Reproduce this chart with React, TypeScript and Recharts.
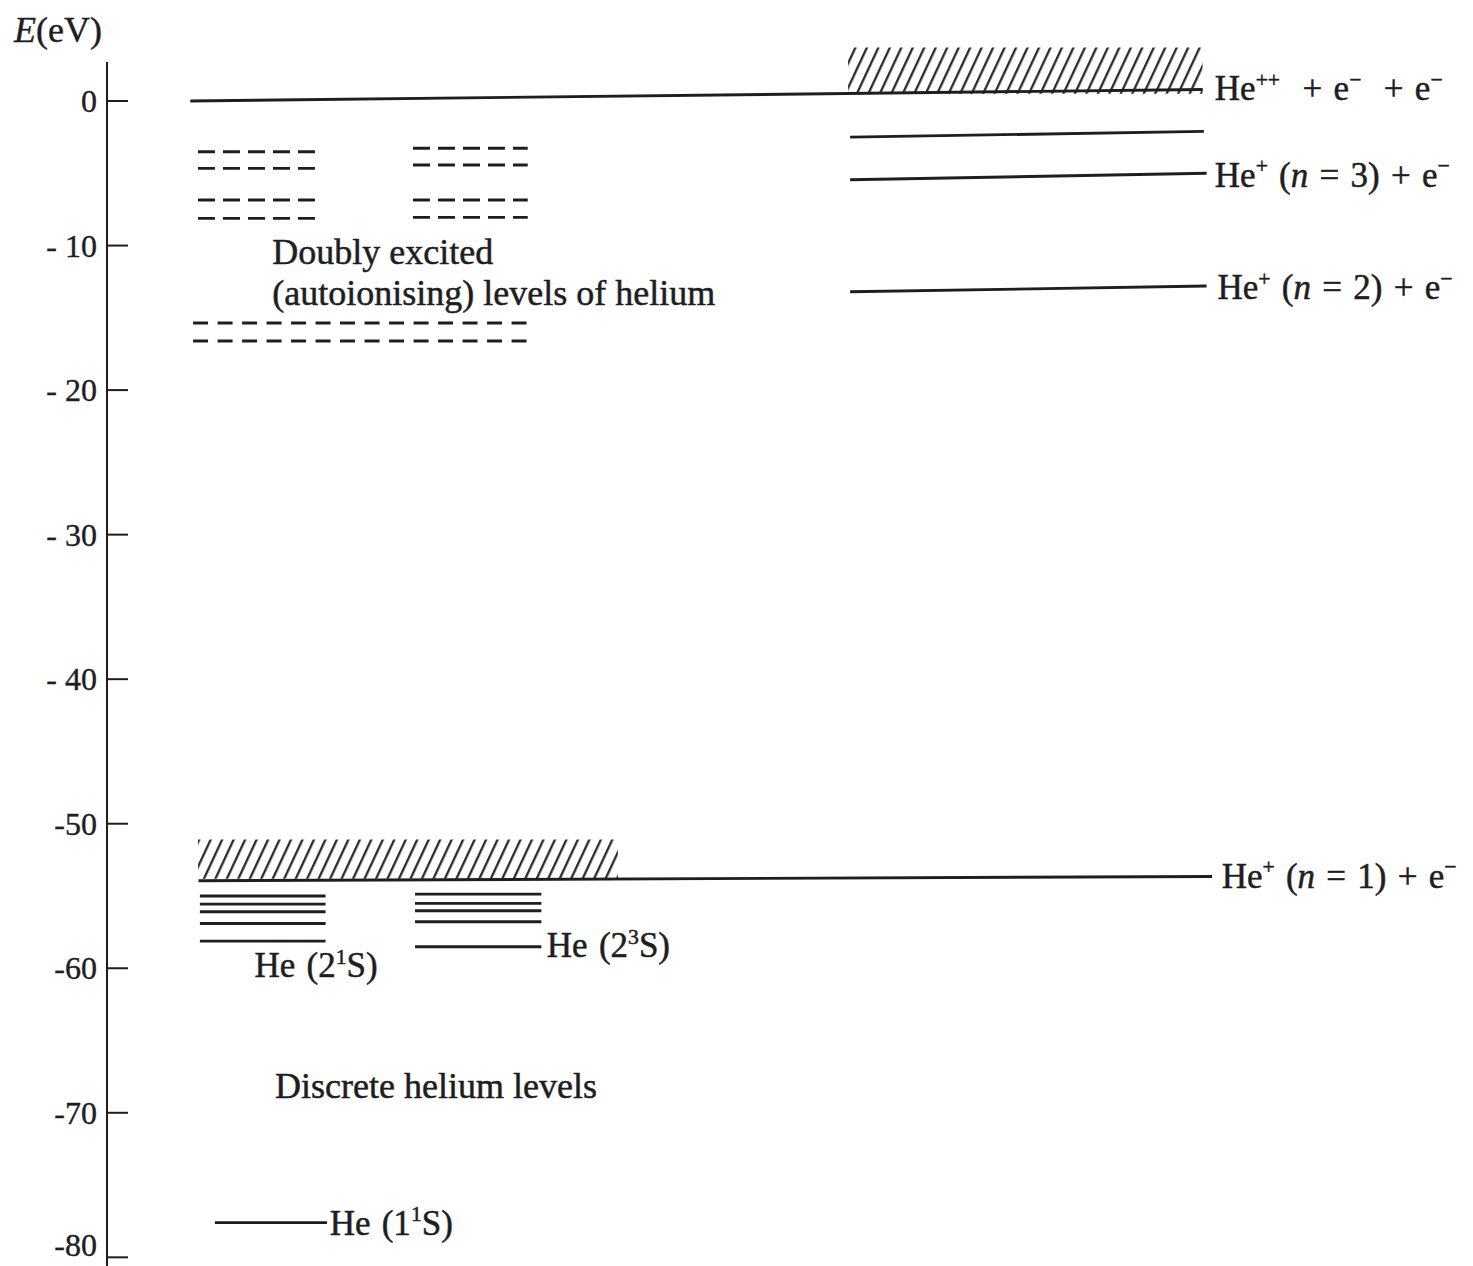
import React from "react";
import { ComposedChart, Line, XAxis, YAxis, ReferenceArea, ReferenceDot } from "recharts";

const INK = "#1e1e1e";
const SERIF = '"Liberation Serif", "DejaVu Serif", serif';

const W = 1473;
const H = 1266;

// energy axis, eV
const E_DOMAIN = [-80.6, 2.7];
const E_TICKS = [0, -10, -20, -30, -40, -50, -60, -70, -80];
const E_TICK_LABELS = ["0", "- 10", "- 20", "- 30", "- 40", "-50", "-60", "-70", "-80"];

// horizontal position is an arbitrary 0..100 across the diagram.
// ionisation thresholds, E read at both ends (the scan is a bit skewed)
const LIMIT_LEVELS = [
  { from: 6.1, to: 80.2, eFrom: 0, eTo: 0.8 }, // He++ + e- + e-
  { from: 54.4, to: 80.3, eFrom: -2.5, eTo: -2.1 },
  { from: 54.4, to: 80.5, eFrom: -5.45, eTo: -5.0 }, // n = 3
  { from: 54.4, to: 80.5, eFrom: -13.2, eTo: -12.8 }, // n = 2
  { from: 6.7, to: 80.9, eFrom: -53.95, eTo: -53.65 }, // n = 1
];

// discrete levels
const SINGLET_X = [6.8, 16.0];
const SINGLET_E = [-55.0, -55.56, -56.09, -56.9, -58.12];
const TRIPLET_X = [22.55, 31.8];
const TRIPLET_E = [-54.87, -55.51, -56.02, -56.78, -58.51];
const GROUND_X = [7.9, 16.1];
const GROUND_E = [-77.6];

// doubly excited (autoionising) levels, dashed
const DOUBLY_LEFT_X = [6.66, 15.45];
const DOUBLY_LEFT_E = [-3.51, -4.66, -6.85, -8.12];
const DOUBLY_RIGHT_X = [22.4, 30.8];
const DOUBLY_RIGHT_E = [-3.27, -4.43, -6.85, -8.05];
const DOUBLY_WIDE_X = [6.3, 30.8];
const DOUBLY_WIDE_E = [-15.36, -16.6];

// continua (hatched)
const CONTINUA = [
  { x1: 54.25, x2: 80.2, e1: 0.5, e2: 3.7 },
  { x1: 6.66, x2: 37.4, e1: -53.8, e2: -51.1 },
];

const LEVEL_LABELS = [
  { x: 81.1, e: 0.9, text: "He^{++}  + e^{−}  + e^{−}" },
  { x: 81.1, e: -5.1, text: "He^{+} (_{n} = 3) + e^{−}" },
  { x: 81.3, e: -12.9, text: "He^{+} (_{n} = 2) + e^{−}" },
  { x: 81.6, e: -53.6, text: "He^{+} (_{n} = 1) + e^{−}" },
  { x: 10.8, e: -59.8, text: "He (2^{1}S)" },
  { x: 32.2, e: -58.4, text: "He (2^{3}S)" },
  { x: 16.3, e: -77.6, text: "He (1^{1}S)" },
];

const DESCRIPTIONS = [
  { x: 12.1, e: -10.4, text: "Doubly excited" },
  { x: 12.1, e: -13.25, text: "(autoionising) levels of helium" },
  { x: 12.3, e: -68.1, text: "Discrete helium levels" },
];

const seg = (x: number[], e0: number, e1 = e0) => [
  { x: x[0], e: e0 },
  { x: x[1], e: e1 },
];

function rich(text: string, fs: number) {
  const parts = text.split(/(\^\{[^}]*\}|_\{[^}]*\})/).filter((p) => p !== "");
  const out: React.ReactNode[] = [];
  let raised = false;
  parts.forEach((p, i) => {
    if (p.startsWith("^{")) {
      out.push(
        <tspan key={i} dy={raised ? undefined : -fs * 0.38} fontSize={fs * 0.62}>
          {p.slice(2, -1)}
        </tspan>
      );
      raised = true;
    } else {
      const it = p.startsWith("_{");
      out.push(
        <tspan key={i} dy={raised ? fs * 0.38 : undefined} fontStyle={it ? "italic" : undefined}>
          {it ? p.slice(2, -1) : p}
        </tspan>
      );
      raised = false;
    }
  });
  return out;
}

const textShape = (text: string, fs: number, spacing = 0) => (p: any) => (
  <text
    x={p.cx}
    y={p.cy + fs * 0.34}
    fontSize={fs}
    fill={INK}
    stroke={INK}
    strokeWidth={0.5}
    fontFamily={SERIF}
    style={{ whiteSpace: "pre", wordSpacing: spacing }}
  >
    {rich(text, fs)}
  </text>
);

const EnergyTick = (props: any) => {
  const { x, y, payload } = props;
  const label = E_TICK_LABELS[E_TICKS.indexOf(payload.value)];
  // keep the bottom label inside the picture
  const base = Math.min(y + 11, H - 10);
  return (
    <g>
      <line x1={x + 7} x2={x + 28} y1={y} y2={y} stroke={INK} strokeWidth={2} />
      <text
        x={x - 3}
        y={base}
        textAnchor="end"
        fontSize={32}
        fill={INK}
        stroke={INK}
        strokeWidth={0.4}
        fontFamily={SERIF}
        style={{ whiteSpace: "pre" }}
      >
        {label}
      </text>
    </g>
  );
};

const AxisTitle = (props: any) => {
  const vb = props.viewBox || { x: 0, y: 62 };
  return (
    <text
      x={vb.x + 14}
      y={vb.y - 20}
      fontSize={36}
      fill={INK}
      stroke={INK}
      strokeWidth={0.4}
      fontFamily={SERIF}
    >
      <tspan fontStyle="italic">E</tspan>(eV)
    </text>
  );
};

const levelLine = (key: string, data: { x: number; e: number }[], dash?: string) => (
  <Line
    key={key}
    data={data}
    dataKey="e"
    type="linear"
    stroke={INK}
    strokeWidth={2.9}
    strokeDasharray={dash}
    dot={false}
    activeDot={false}
    isAnimationActive={false}
  />
);

export default function App() {
  return (
    <div
      style={{
        position: "absolute",
        left: 0,
        top: 0,
        width: W,
        height: H,
        background: "#fff",
        fontFamily: SERIF,
      }}
    >
      <ComposedChart width={W} height={H} margin={{ top: 62, right: 0, bottom: 0, left: 0 }}>
        <defs>
          <pattern
            id="hatch"
            patternUnits="userSpaceOnUse"
            width={10.4}
            height={10.4}
            patternTransform="rotate(25)"
          >
            <line x1={5} y1={0} x2={5} y2={10.4} stroke={INK} strokeWidth={2.2} />
          </pattern>
        </defs>
        <XAxis type="number" dataKey="x" domain={[0, 100]} allowDataOverflow hide />
        <YAxis
          type="number"
          domain={E_DOMAIN}
          allowDataOverflow
          ticks={E_TICKS}
          interval={0}
          width={107}
          axisLine={{ stroke: INK, strokeWidth: 2 }}
          tickLine={false}
          tickSize={0}
          tickMargin={7}
          tick={<EnergyTick />}
          label={{ content: <AxisTitle /> }}
        />

        {CONTINUA.map((c, i) => (
          <ReferenceArea
            key={`c${i}`}
            x1={c.x1}
            x2={c.x2}
            y1={c.e1}
            y2={c.e2}
            fill="url(#hatch)"
            fillOpacity={1}
            stroke="none"
            ifOverflow="visible"
          />
        ))}

        {LIMIT_LEVELS.map((l, i) => levelLine(`lim${i}`, seg([l.from, l.to], l.eFrom, l.eTo)))}
        {SINGLET_E.map((e, i) => levelLine(`s${i}`, seg(SINGLET_X, e)))}
        {TRIPLET_E.map((e, i) => levelLine(`t${i}`, seg(TRIPLET_X, e)))}
        {GROUND_E.map((e, i) => levelLine(`g${i}`, seg(GROUND_X, e)))}
        {DOUBLY_LEFT_E.map((e, i) => levelLine(`dl${i}`, seg(DOUBLY_LEFT_X, e), "17 8"))}
        {DOUBLY_RIGHT_E.map((e, i) => levelLine(`dr${i}`, seg(DOUBLY_RIGHT_X, e), "17 8"))}
        {DOUBLY_WIDE_E.map((e, i) => levelLine(`dw${i}`, seg(DOUBLY_WIDE_X, e), "15 9.5"))}

        {LEVEL_LABELS.map((n, i) => (
          <ReferenceDot
            key={`ll${i}`}
            x={n.x}
            y={n.e}
            r={0}
            ifOverflow="visible"
            shape={textShape(n.text, 35, 2.5)}
          />
        ))}
        {DESCRIPTIONS.map((n, i) => (
          <ReferenceDot
            key={`d${i}`}
            x={n.x}
            y={n.e}
            r={0}
            ifOverflow="visible"
            shape={textShape(n.text, 36)}
          />
        ))}
      </ComposedChart>
    </div>
  );
}
